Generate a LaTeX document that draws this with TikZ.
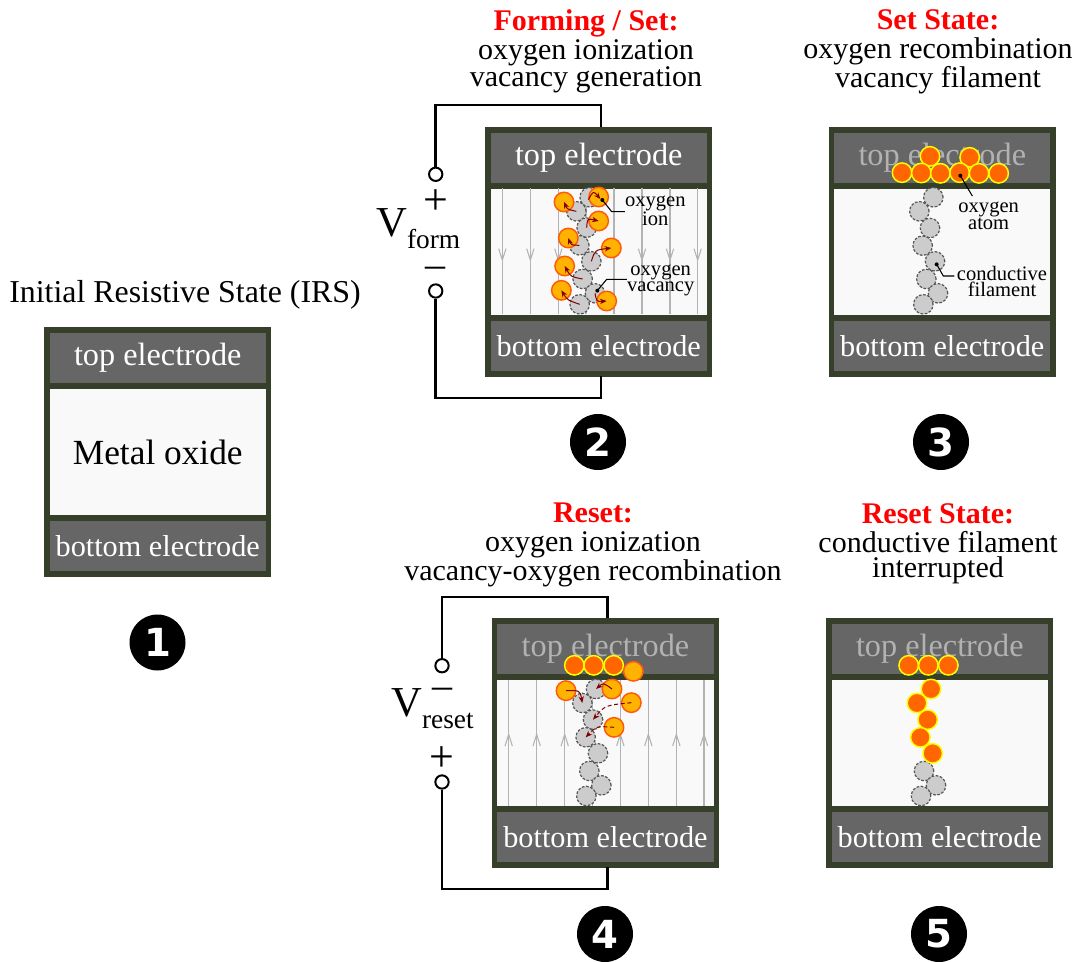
\documentclass[tikz,border=0pt]{standalone}
\usepackage{fontspec}
\setmainfont{Liberation Serif}
\newfontfamily\dingfont{DejaVu Sans}
\usetikzlibrary{arrows.meta,calc}
\definecolor{framecol}{HTML}{353F2A}
\definecolor{eleccol}{HTML}{666666}
\definecolor{oxidecol}{HTML}{F9F9F9}
\definecolor{ionfill}{HTML}{FFB300}
\definecolor{ionline}{HTML}{FF5A0A}
\definecolor{atomfill}{HTML}{FF6600}
\definecolor{atomline}{HTML}{FFFF00}
\definecolor{vacfill}{HTML}{CCCCCC}
\definecolor{vacline}{HTML}{555555}
\definecolor{fieldcol}{HTML}{B3B3B3}
\definecolor{fadetext}{HTML}{B2B2B2}
\definecolor{arrcol}{HTML}{800000}
\newcommand{\fs}[1]{\fontsize{#1}{#1}\selectfont}
\tikzset{
  x=0.75pt,y=-0.75pt,
  zoomed/.style={shift={#1},x=0.25pt,y=-0.25pt},
  frame/.style={fill=framecol,draw=none,minimum width=170.25pt,minimum height=187.5pt,inner sep=0pt,anchor=north west},
  elec/.style={fill=eleccol,draw=none,inner sep=0pt,text=white,minimum width=162.3pt,minimum height=38pt,anchor=north west,font=\fs{24.2}},
  elecb/.style={elec,font=\fs{22.7}},
  oxide/.style={fill=oxidecol,draw=none,inner sep=0pt,minimum width=162.3pt,minimum height=95pt,anchor=north west},
  vac/.style={circle,fill=vacfill,draw=vacline,line width=0.9pt,dash pattern=on 2pt off 1.2pt,minimum size=14.6pt,inner sep=0pt},
  ion/.style={circle,fill=ionfill,draw=ionline,line width=1.1pt,minimum size=14.6pt,inner sep=0pt},
  atom/.style={circle,fill=atomfill,draw=atomline,line width=1.1pt,minimum size=14.6pt,inner sep=0pt},
  field/.style={draw=fieldcol,line width=0.8pt},
  chev/.style={draw=fieldcol,line width=0.8pt},
  move/.style={draw=arrcol,line width=0.75pt,-{Stealth[length=5pt,width=4pt]}},
  lead/.style={draw=black,line width=0.8pt},
  ldot/.style={circle,fill=black,inner sep=0pt,minimum size=3pt},
  small/.style={inner sep=0pt,align=center,font=\fontsize{15.4}{12}\selectfont},
  title/.style={inner sep=0pt,align=center,font=\fontsize{22.5}{20}\selectfont,anchor=north},
  titlelow/.style={title,font=\fontsize{22.5}{19.2}\selectfont},
  wire/.style={draw=black,line width=2pt},
  term/.style={circle,draw=black,fill=white,line width=1.5pt,minimum size=10pt,inner sep=0pt},
  sign/.style={inner sep=0pt,font=\fs{33},anchor=base},
  minus/.style={inner sep=0pt,font=\fs{30},anchor=base},
  badge/.style={circle,fill=black,text=white,minimum size=42pt,inner sep=0pt,font=\dingfont\bfseries\fs{29}},
}
% #1 prefix, #2 x, #3 y, #4 top text colour
\newcommand{\device}[4]{%
  \node[frame] (#1f) at (#2,#3) {};
  \node[elec,text=#4] (#1t) at ($(#2,#3)+(5.3,5.3)$) {top electrode};
  \node[oxide] (#1m) at ($(#2,#3)+(5.3,61.5)$) {};
  \node[elecb] (#1b) at ($(#2,#3)+(5.3,193.3)$) {bottom electrode};
}
\newcommand{\vacn}[3]{\node[vac] (#1) at (#2,#3) {};}
\newcommand{\ionn}[3]{\node[ion] (#1) at (#2,#3) {};}
\newcommand{\atomn}[3]{\node[atom] (#1) at (#2,#3) {};}
\begin{document}
\begin{tikzpicture}
\useasboundingbox (0,0) rectangle (1081,962);
% ---------- device 1
\device{a}{44}{327}{white}
\node[inner sep=0pt,font=\fs{26.5}] (amt) at (am.center) {Metal oxide};
\node[inner sep=0pt,font=\fs{23.9},anchor=base] (airs) at (185,303) {Initial Resistive State (IRS)};
\node[badge] (abadge) at (157.5,642.5) {1};
% ---------- device 2
\device{b}{485}{127}{white}
\begin{scope}[zoomed={(480,120)}]
\foreach \fx in {67,151,235,318,402,486,570,653}{
  \draw[field] (\fx,204) -- (\fx,582);
  \draw[chev] (\fx-11,386) -- (\fx,420) -- (\fx+11,386);
}
\vacn{bv1}{329}{232}\vacn{bv2}{289}{274}\vacn{bv3}{320}{323}\vacn{bv4}{298}{376}
\vacn{bv5}{334}{424}\vacn{bv6}{308}{477}\vacn{bv7}{345}{520}\vacn{bv8}{299}{553}
\ionn{bi1}{356}{231}\ionn{bi2}{252}{246}\ionn{bi3}{356}{303}\ionn{bi4}{265}{354}
\ionn{bi5}{394}{384}\ionn{bi6}{254}{438}\ionn{bi7}{244}{511}\ionn{bi8}{380}{543}
\draw[move,shorten <=-2pt,shorten >=-2pt] (bv1.center) .. controls (340,212) .. (bi1.center);
\draw[move] (bv2.center) .. controls (262,268) .. (bi2.center);
\draw[move] (bv3.center) .. controls (322,295) .. (bi3.center);
\draw[move] (bv4.center) .. controls (272,375) .. (bi4.center);
\draw[move] (bv5.center) .. controls (345,390) .. (bi5.center);
\draw[move] (bv6.center) .. controls (272,470) .. (bi6.center);
\draw[move] (bv7.center) .. controls (350,545) .. (bi8.center);
\draw[move] (bv8.center) .. controls (262,540) .. (bi7.center);
\node[ldot] (bd1) at (367,240) {};
\node[ldot] (bd2) at (352,512) {};
\node[small,font=\fontsize{15.4}{13.2}\selectfont] (blab1) at (526,272) {oxygen\\ion};
\node[small] (blab2) at (542,481) {oxygen\\vacancy};
\coordinate (bc1) at (395,275);
\coordinate (bc2) at (380,478);
\draw[lead] (bd1.center) -- (bc1) -- (blab1.west |- bc1);
\draw[lead] (bd2.center) -- (bc2) -- (blab2.north west |- bc2);
\end{scope}
\node[title] (btitle) at (586,9) {\textcolor{red}{\textbf{Forming / Set:}}\\[2.2pt]oxygen ionization\\vacancy generation};
\node[term] (bp) at (435.7,174.3) {};
\node[term] (bn) at (435.7,291) {};
\coordinate (bw1) at (601,105);\coordinate (bw2) at (601,127);
\coordinate (bw3) at (601,398);\coordinate (bw4) at (601,376);
\draw[wire] (bp.north) |- (bw1) -- (bw2);
\draw[wire] (bn.south) |- (bw3) -- (bw4);
\node[sign] (bplus) at (435.7,215) {+};
\node[minus] (bminus) at (435.7,278) {–};
\node[inner sep=0pt,anchor=base west,font=\fs{32}] (bV) at (376,237) {V\raisebox{-9pt}{\fs{20.5}form}};
\node[badge] (bbadge) at (598,442) {2};
% ---------- device 3
\device{c}{828.5}{127}{fadetext}
\begin{scope}[zoomed={(820,120)}]
\vacn{cv1}{340}{232}\vacn{cv2}{298}{274}\vacn{cv3}{330}{324}\vacn{cv4}{308}{377}
\vacn{cv5}{345}{424}\vacn{cv6}{319}{477}\vacn{cv7}{354}{520}\vacn{cv8}{310}{553}
\atomn{ca1}{330}{109}\atomn{ca2}{449}{112}\atomn{ca3}{246}{158}\atomn{ca4}{304}{159}
\atomn{ca5}{361}{160}\atomn{ca6}{419}{158}\atomn{ca7}{477}{160}\atomn{ca8}{536}{160}
\node[ldot] (cd1) at (421,167) {};
\node[ldot] (cd2) at (350,433) {};
\node[small,font=\fontsize{15.4}{13}\selectfont] (clab1) at (506,288) {oxygen\\atom};
\node[small] (clab2) at (546,484) {conductive\\filament};
\coordinate (cc1) at (457,228);
\coordinate (cc2) at (370,468);
\coordinate (cc3) at (403,468);
\draw[lead] (cd1.center) -- (cc1);
\draw[lead] (cd2.center) -- (cc2) -- (cc3);
\end{scope}
\node[title] (ctitle) at (938,9) {\textcolor{red}{\textbf{Set State:}}\\[2.2pt]oxygen recombination\\vacancy filament};
\node[badge] (cbadge) at (941,442) {3};
% ---------- device 4
\device{d}{491.7}{618}{fadetext}
\begin{scope}[zoomed={(485,612)}]
\foreach \fx in {71,155,239,323,406,490,574,657}{
  \draw[field] (\fx,203) -- (\fx,582);
  \draw[chev] (\fx-11,402) -- (\fx,367) -- (\fx+11,402);
}
\vacn{dv1}{333}{231}\vacn{dv2}{292}{273}\vacn{dv3}{324}{323}\vacn{dv4}{302}{376}
\vacn{dv5}{339}{424}\vacn{dv6}{313}{477}\vacn{dv7}{349}{520}\vacn{dv8}{304}{552}
\atomn{da1}{268}{160}\atomn{da2}{326}{160}\atomn{da3}{386}{160}
\ionn{di1}{445}{178}\ionn{di2}{381}{231}\ionn{di3}{243}{236}\ionn{di4}{439}{272}\ionn{di5}{387}{346}
\draw[move] (di2.center) .. controls (355,212) .. (dv1.center);
\draw[move] (di3.center) .. controls (285,235) .. (dv2.center);
\draw[move,densely dashed] (di4.center) .. controls (360,280) .. (dv3.center);
\draw[move,densely dashed] (di5.center) .. controls (335,342) .. (dv4.center);
\end{scope}
\node[titlelow] (dtitle) at (593,503) {\textcolor{red}{\textbf{Reset:}}\\[2.6pt]oxygen ionization\\vacancy-oxygen recombination};
\node[term] (dn) at (442,665.7) {};
\node[term] (dp) at (442,782) {};
\coordinate (dw1) at (607.5,597);\coordinate (dw2) at (607.5,618);
\coordinate (dw3) at (607.5,889);\coordinate (dw4) at (607.5,867);
\draw[wire] (dn.north) |- (dw1) -- (dw2);
\draw[wire] (dp.south) |- (dw3) -- (dw4);
\node[minus] (dminus) at (442,698) {–};
\node[sign] (dplus) at (442,771) {+};
\node[inner sep=0pt,anchor=base west,font=\fs{32}] (dV) at (391,716) {V\raisebox{-9pt}{\fs{20.5}reset}};
\node[badge] (dbadge) at (605,934) {4};
% ---------- device 5
\device{e}{826}{618}{fadetext}
\begin{scope}[zoomed={(820,612)}]
\vacn{ev1}{312}{477}\vacn{ev2}{348}{520}\vacn{ev3}{303}{552}
\atomn{ea1}{266}{160}\atomn{ea2}{325}{160}\atomn{ea3}{385}{160}
\atomn{ea4}{333}{231}\atomn{ea5}{291}{273}\atomn{ea6}{323}{323}\atomn{ea7}{301}{376}\atomn{ea8}{338}{424}
\end{scope}
\node[titlelow] (etitle) at (938,503) {\textcolor{red}{\textbf{Reset State:}}\\[2.6pt]conductive filament\\interrupted};
\node[badge] (ebadge) at (939,934) {5};
\end{tikzpicture}
\end{document}
